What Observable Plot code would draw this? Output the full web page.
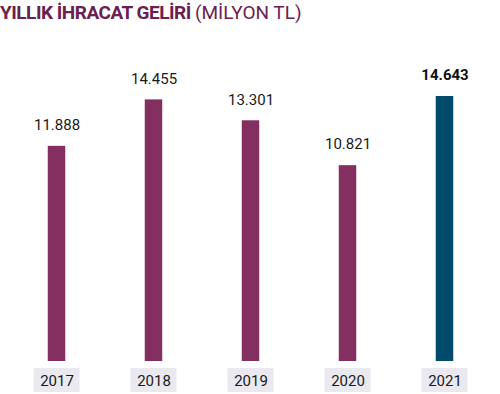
<!DOCTYPE html>
<html><head><meta charset="utf-8">
<script src="https://cdn.jsdelivr.net/npm/d3@7"></script>
<script src="https://cdn.jsdelivr.net/npm/@observablehq/plot@0.6"></script>
<style>
body{margin:0;background:#fff;}
#title{height:30px;font-family:Roboto,sans-serif;font-size:19px;line-height:26px;color:#6b2150;letter-spacing:-0.5px;white-space:nowrap;}
#title b{font-weight:700;}
#title span{font-weight:400;letter-spacing:0;}
</style></head>
<body>
<div id="title"><b>YILLIK İHRACAT GELİRİ</b> <span>(MİLYON TL)</span></div>
<div id="chart"></div>
<script>
const years = ["2017","2018","2019","2020","2021"];
const values = [11888, 14455, 13301, 10821, 14643];
const labels = ["11.888","14.455","13.301","10.821","14.643"];
const highlight = [false,false,false,false,true];

const data = years.map((y,i)=>({year:y, value:values[i], label:labels[i], hl:highlight[i]}));

const chart = Plot.plot({
  width: 500,
  height: 364,
  marginLeft: 6,
  marginRight: 6,
  marginTop: 66,
  marginBottom: 33,
  x: {domain: years, padding: 0, axis: null},
  y: {domain: [0, 14643], axis: null},
  style: {fontFamily: "Roboto, sans-serif", background: "#fff"},
  marks: [
    Plot.barY(data, {x:"year", y:"value", fill: d => d.hl ? "#004b6c" : "#833060", insetLeft: 39.75, insetRight: 39.75}),
    Plot.barY(data, {x:"year", y1: () => 0, y2: () => 0, fill:"#e9e9ef", insetLeft: 25.5, insetRight: 25.5, insetTop: 7, insetBottom: -31}),
    Plot.text(data, {x:"year", text:"year", frameAnchor:"bottom", lineAnchor:"middle", dy: 20, fontSize: 15, fill:"#1a1a1a"}),
    Plot.text(data.filter(d=>!d.hl), {x:"year", y:"value", text:"label", dy:-21, fontSize:15, fill:"#1a1a1a"}),
    Plot.text(data.filter(d=>d.hl), {x:"year", y:"value", text:"label", dy:-21, fontSize:15, fill:"#111", fontWeight:700})
  ]
});
document.getElementById("chart").appendChild(chart);
</script>
</body></html>
